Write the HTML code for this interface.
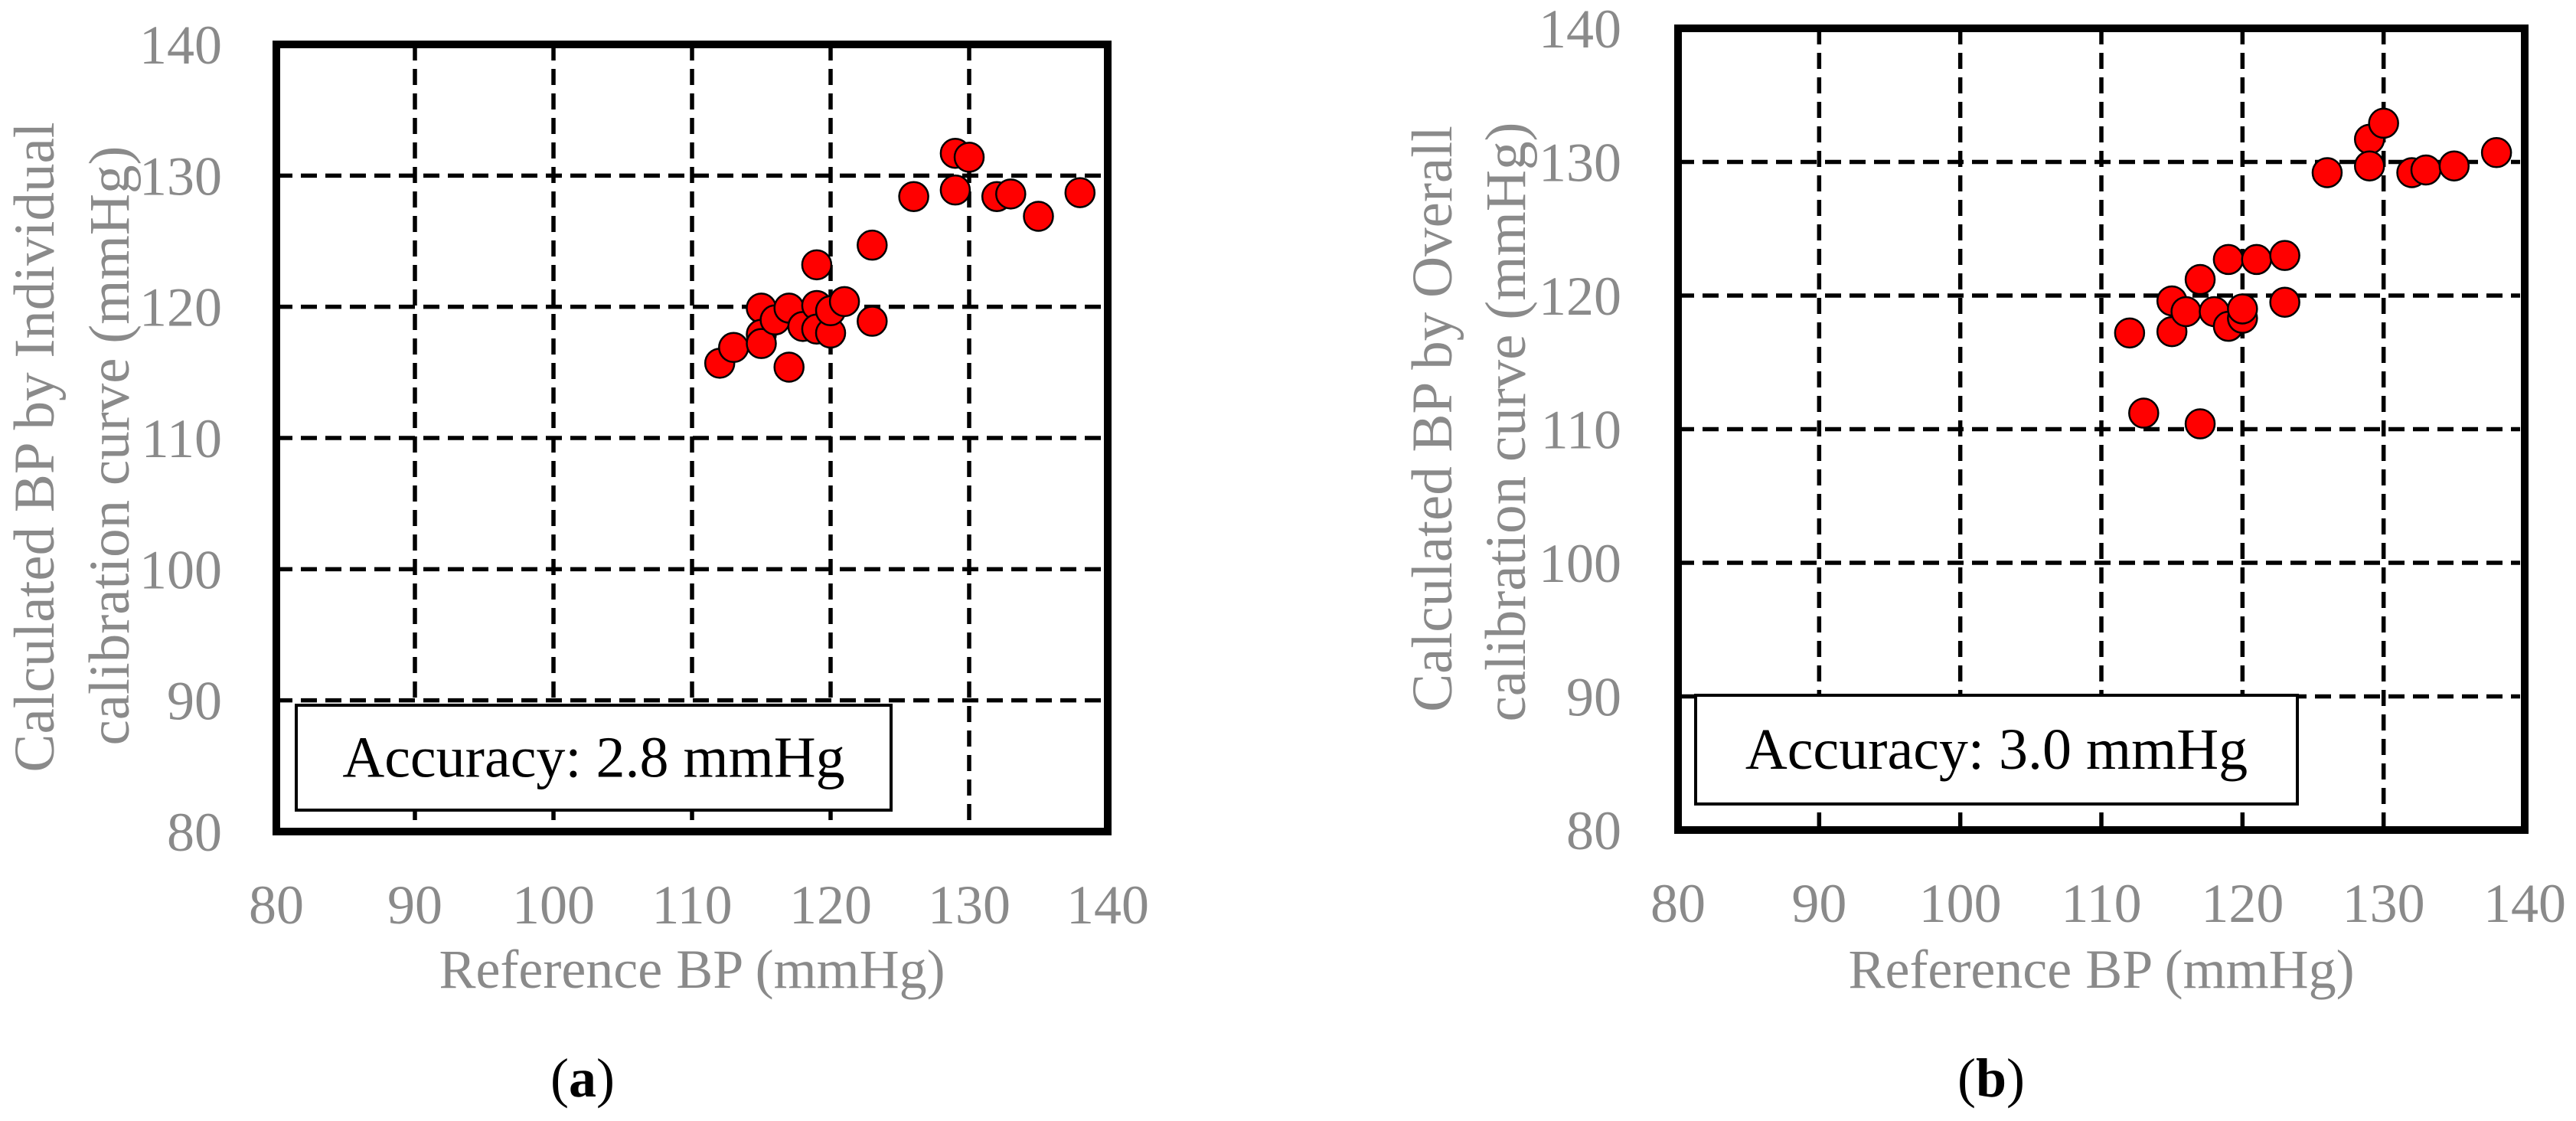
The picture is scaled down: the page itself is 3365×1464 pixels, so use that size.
<!DOCTYPE html>
<html><head><meta charset="utf-8"><style>
html,body{margin:0;padding:0;background:#fff}
svg{display:block}
text{font-family:"Liberation Serif",serif}
</style></head><body>
<svg id="fig" width="3365" height="1464" viewBox="0 0 3365 1464" xmlns="http://www.w3.org/2000/svg"></svg>
<script>
const xTicks = [80, 90, 100, 110, 120, 130, 140];
const yTicks = [80, 90, 100, 110, 120, 130, 140];
const refA = [112,113,115,115,115,116,117,117,118,119,119,119,120,120,121,123,123,126,129,130,129,132,133,135,138];
const calcA = [115.7,116.9,119.9,117.9,117.2,119.0,115.4,119.9,118.5,123.2,120.1,118.3,118.0,119.7,120.4,124.7,118.9,128.4,131.7,131.4,128.9,128.4,128.6,126.9,128.7];
const refB = [112,113,115,115,116,117,117,118,119,119,120,120,121,123,123,126,129,129,130,132,133,135,138];
const calcB = [117.2,111.2,119.6,117.3,118.8,121.2,110.4,118.8,122.7,117.7,118.3,119.0,122.7,123.0,119.5,129.2,131.7,129.7,132.9,129.2,129.4,129.7,130.7];
const accA = "Accuracy: 2.8 mmHg";
const accB = "Accuracy: 3.0 mmHg";

const NS = "http://www.w3.org/2000/svg";
const svg = document.getElementById('fig');
function mk(tag, attrs, parent){const e=document.createElementNS(NS,tag);for(const k in attrs)e.setAttribute(k,attrs[k]);(parent||svg).appendChild(e);return e;}

function panel(cfg){
  const g = mk('g',{});
  
  
  const X = v => cfg.x0 + (v-80)*(cfg.x1-cfg.x0)/60;
  const Y = v => cfg.y1 - (v-80)*(cfg.y1-cfg.y0)/60;
  [90,100,110,120,130].forEach(v=>{
    const l = mk('line',{x1:X(v),x2:X(v),y1:Y(140),y2:Y(80),stroke:'#000','stroke-width':5.5,'stroke-dasharray':'21 11'},g);
    
    
    const h = mk('line',{x1:X(80),x2:X(140)-6,y1:Y(v),y2:Y(v),stroke:'#000','stroke-width':5.5,'stroke-dasharray':'21 11'},g);
    
    
  });
  const bx = mk('rect',{x:cfg.bx,y:cfg.by,width:cfg.bw,height:cfg.bh,fill:'#fff',stroke:'#000','stroke-width':4},g);
  
  
  const bt = mk('text',{x:cfg.bx+cfg.bw/2,y:cfg.by+cfg.bh/2+25,'text-anchor':'middle','font-size':76,fill:'#000'},g);
  bt.textContent = cfg.acc;
  
  
  const fr = mk('rect',{x:X(80),y:Y(140),width:X(140)-X(80),height:Y(80)-Y(140),fill:'none',stroke:'#000','stroke-width':10},g);
  
  
  cfg.xs.forEach((v,i)=>{
    const c = mk('circle',{cx:X(v),cy:Y(cfg.ys[i]),r:19,fill:'#f00',stroke:'#000','stroke-width':2.5},g);
    
    
  });
  yTicks.forEach(v=>{
    const t = mk('text',{x:cfg.ylabX,y:Y(v)+25,'text-anchor':'end','font-size':72,fill:'#8a8a8a'},g);
    t.textContent = v;
    
    
  });
  xTicks.forEach(v=>{
    const t = mk('text',{x:X(v),y:cfg.xlabY,'text-anchor':'middle','font-size':72,fill:'#8a8a8a'},g);
    t.textContent = v;
    
    
  });
  const xt = mk('text',{x:(X(80)+X(140))/2,y:1290,'text-anchor':'middle','font-size':72,fill:'#8a8a8a','xml:space':'preserve'},g);
  xt.textContent = 'Reference  BP (mmHg)';
  
  
  cfg.ytitle.forEach((s,i)=>{
    const cx = cfg.ytx[i], cy = cfg.yty[i];
    const t = mk('text',{x:cx,y:cy,'text-anchor':'middle','font-size':75,fill:'#8a8a8a',transform:`rotate(-90 ${cx} ${cy})`,'xml:space':'preserve'},g);
    t.textContent = s;
    
    
  });
  const pl = mk('text',{x:cfg.plx,y:1432,'text-anchor':'middle','font-size':72,fill:'#000'},g);
  pl.innerHTML = '(<tspan font-weight="bold">'+cfg.letter+'</tspan>)';
  
  
}

panel({name:'panel-a',x0:361,x1:1447,y0:58,y1:1086,xs:refA,ys:calcA,acc:accA,
  bx:387,by:921,bw:777,bh:137,ylabX:290,xlabY:1206,
  ytitle:['Calculated  BP by Individual','calibration  curve  (mmHg)'],ytx:[70,168],yty:[584,582],plx:761,letter:'a'});
panel({name:'panel-b',x0:2192,x1:3298,y0:37,y1:1084,xs:refB,ys:calcB,acc:accB,
  bx:2215,by:908,bw:786,bh:142,ylabX:2118,xlabY:1204,
  ytitle:['Calculated  BP by Overall','calibration  curve  (mmHg)'],ytx:[1896,1992],yty:[547,551],plx:2601,letter:'b'});
</script>
</body></html>
